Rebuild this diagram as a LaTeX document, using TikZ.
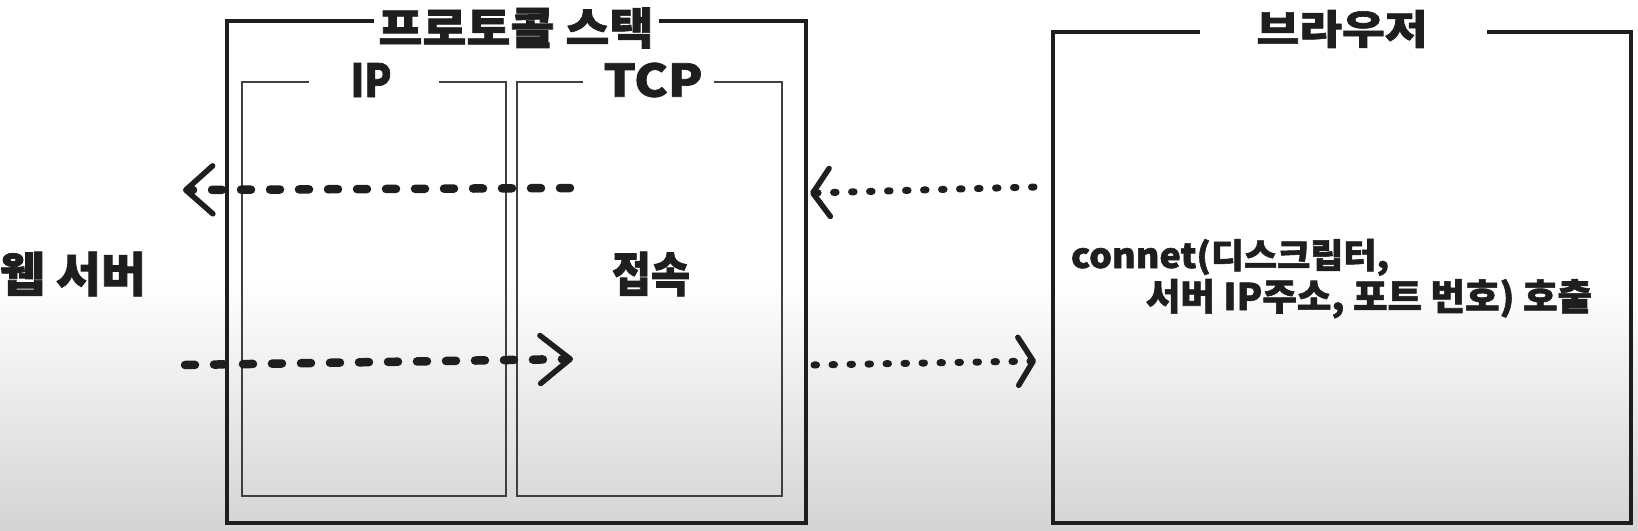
\documentclass[tikz,border=0pt]{standalone}
\usepackage{fontspec}
\usepackage{graphicx}
\newfontfamily\kr{Noto Sans CJK KR}[FakeBold=1.6]
\usetikzlibrary{arrows.meta}
\newcommand\fitt[3]{\resizebox{#1pt}{#2pt}{\kr\bfseries #3}}
\definecolor{ink}{HTML}{1E1E1E}
\definecolor{bggray}{HTML}{D4D4D4}
\begin{document}
\begin{tikzpicture}[x=1pt,y=-1pt,
  lbl/.style={inner sep=0pt, outer sep=0pt, text=ink},
  thickbox/.style={line width=4pt, draw=ink},
  thinbox/.style={line width=1.6pt, draw=ink!85},
  brbox/.style={line width=3.4pt, draw=ink},
  dashy/.style={line width=8.5pt, draw=ink, dash pattern=on 10pt off 19pt, line cap=round},
  dotty/.style={line width=7pt, draw=ink, dash pattern=on 2.5pt off 15.5pt, line cap=round},
  chev/.style={-{Straight Barb[length=#1pt, width=48pt, line width=5.5pt 0, round]}}
]
\useasboundingbox (0,0) rectangle (1638,530);
\begin{scope}[y=1pt]
  \fill[white] (0,0) rectangle (1638,-280);
  \shade[top color=white, bottom color=bggray] (0,-280) rectangle (1638,-530);
\end{scope}

% titles and labels
\node[lbl] (stack) at (516,28) {\fitt{275}{37}{프로토콜 스택}};
\node[lbl] (ip) at (371,80) {\fitt{41}{34}{IP}};
\node[lbl] (tcp) at (653,80) {\fitt{99}{34}{TCP}};
\node[lbl] (br) at (1342,29) {\fitt{171}{34}{브라우저}};
\node[lbl] (web) at (73,274) {\fitt{146}{40}{웹 서버}};
\node[lbl] (conn) at (651,274) {\fitt{78}{40}{접속}};
\node[lbl, anchor=base west] (call1) at (1071,268) {\fitt{318}{29}{connet(디스크립터,}};
\node[lbl, anchor=base west] (call2) at (1146,310) {\fitt{446}{31}{서버 IP주소, 포트 번호) 호출}};

% boxes
\draw[thickbox] (374,21) -| (227,523) -| (806,21) -- (659,21);
\draw[thinbox] (309,82) -| (242,496) -| (506,82) -- (439,82);
\draw[thinbox] (583,82) -| (517,496) -| (782,82) -- (714,82);
\draw[brbox] (1200,32) -| (1053,523) -| (1631,32) -- (1487,32);

% connectors
\coordinate (a1s) at (570,188);
\coordinate (a1e) at (183,190);
\coordinate (a2s) at (185,365);
\coordinate (a2e) at (573,359);
\coordinate (a3s) at (1034,187);
\coordinate (a3e) at (810,193);
\coordinate (a4s) at (814,365);
\coordinate (a4e) at (1036,361);
\draw[dashy, chev=27] (a1s) -- (a1e);
\draw[dashy, chev=30] (a2s) -- (a2e);
\draw[dotty, chev=17] (a3s) -- (a3e);
\draw[dotty, chev=15] (a4s) -- (a4e);
\end{tikzpicture}
\end{document}
